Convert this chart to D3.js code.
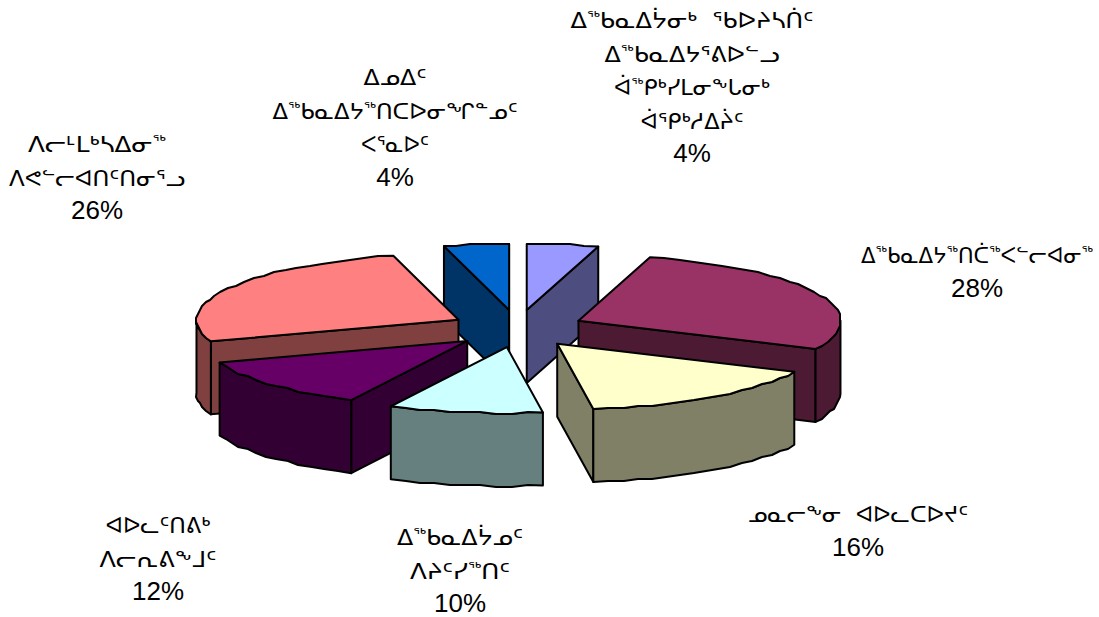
<!DOCTYPE html>
<html>
<head>
<meta charset="utf-8">
<script src="https://cdn.jsdelivr.net/npm/d3@7"></script>
<style>
    html, body { margin: 0; padding: 0; background: #fff; }
    svg { display: block; }
    text { fill: #000; text-anchor: middle; white-space: pre; }
    .pct { font-family: "Liberation Sans", Arial, sans-serif; font-size: 26px; }
    .syl { font-family: "DejaVu Sans", sans-serif; font-size: 23px; }
</style>
</head>
<body>
<svg id="base" width="1099" height="617"></svg>
<script>
    // clockwise from twelve o'clock, the labels show these rounded
    const values = [4.4, 27.6, 15.8, 9.5, 12.4, 26.3, 4];
    const names = [
        ["ᐃᖅᑲᓇᐃᔮᓂᒃ  ᖃᐅᔨᓴᑏᑦ", "ᐃᖅᑲᓇᐃᔭᕐᕕᐅᓪᓗ", "ᐋᖅᑭᒃᓯᒪᓂᖕᒐᓂᒃ", "ᐋᕐᑭᒃᓱᐃᔩᑦ"],
        ["ᐃᖅᑲᓇᐃᔭᖅᑎᑖᖅᐸᓪᓕᐊᓂᖅ"],
        ["ᓄᓇᓕᖕᓂ  ᐊᐅᓚᑕᐅᔪᑦ"],
        ["ᐃᖅᑲᓇᐃᔮᓄᑦ", "ᐱᔨᑦᓯᖅᑎᑦ"],
        ["ᐊᐅᓚᑦᑎᕕᒃ", "ᐱᓕᕆᕕᖕᒧᑦ"],
        ["ᐱᓕᒻᒪᒃᓴᐃᓂᖅ", "ᐱᕙᓪᓕᐊᑎᑦᑎᓂᕐᓗ"],
        ["ᐃᓄᐃᑦ", "ᐃᖅᑲᓇᐃᔭᖅᑎᑕᐅᓂᖏᓐᓄᑦ", "ᐸᕐᓇᐅᑦ"],
    ];
    const topColors = ["#9999ff", "#993366", "#ffffcc", "#ccffff", "#660066", "#ff8080", "#0066cc"];
    const sideColors = ["#4d4d80", "#4d1a33", "#808066", "#668080", "#330033", "#804040", "#003366"];

    // back slices first, so the front ones cover them
    const drawOrder = [6, 0, 1, 5, 2, 4, 3];

    // where each label block is centred, its first baseline, and how wide each line runs
    const labelX = [692, 977, 858, 460, 158, 97, 395];
    const labelY = [28, 263, 522, 545, 533, 152, 85];
    const lineWidths = [[243, 175, 156, 103], [232], [220], [126, 100], [105, 117], [138, 176], [63, 245, 68]];
    const lineGap = 33.5;

    const cx = 517.5;
    const cy = 328.6;
    const rx = 262;
    const ry = 66;
    const explodeX = 67;
    const explodeY = 18.7;
    const depth = 73;

    // the rim is a coarse polyline snapped to a grid, like the old chart export
    const rimStep = 0.06;
    const snap = 2;

    const svg = d3.select("#base");

    const arcs = d3.pie().sort(null).startAngle(0).endAngle(2 * Math.PI)(values);

    // flatten the angle onto the tilted disc
    const sx = d3.scaleLinear().domain([-1, 1]).range([-rx, rx]);
    const sy = d3.scaleLinear().domain([-1, 1]).range([-ry, ry]);

    const line = d3.line().curve(d3.curveLinearClosed);

    function apex(d) {
        const mid = (d.startAngle + d.endAngle) / 2;
        return [cx + explodeX * Math.sin(mid), cy - explodeY * Math.cos(mid)];
    }

    function rim(d, a) {
        const c = apex(d);
        return [c[0] + sx(Math.sin(a)), c[1] + sy(-Math.cos(a))];
    }

    function rimPoints(d, a0, a1) {
        const n = Math.max(2, Math.ceil((a1 - a0) / rimStep));
        return d3.range(n + 1).map((i) => {
            const p = rim(d, a0 + ((a1 - a0) * i) / n);
            if (i === 0 || i === n) return p;
            return [Math.round(p[0] / snap) * snap, Math.round(p[1] / snap) * snap];
        });
    }

    const drop = (p) => [p[0], p[1] + depth];

    const slices = svg
        .selectAll("g")
        .data(drawOrder.map((i) => ({ arc: arcs[i], i })))
        .enter()
        .append("g")
        .attr("stroke", "#000")
        .attr("stroke-width", 2)
        .attr("stroke-linejoin", "round");

    slices.each(function (s) {
        const g = d3.select(this);
        const d = s.arc;
        const c = apex(d);
        const side = sideColors[s.i];
        const wall = (pts) => g.append("path").attr("fill", side).attr("d", line(pts));

        // cut faces that look towards the viewer
        if (Math.sin(d.startAngle) < 0) {
            const p = rim(d, d.startAngle);
            wall([c, p, drop(p), drop(c)]);
        }
        if (Math.sin(d.endAngle) > 0) {
            const p = rim(d, d.endAngle);
            wall([c, p, drop(p), drop(c)]);
        }

        // outer wall, only the front half of the rim
        const a0 = Math.max(d.startAngle, Math.PI / 2);
        const a1 = Math.min(d.endAngle, (3 * Math.PI) / 2);
        if (a1 > a0) {
            const pts = rimPoints(d, a0, a1);
            wall(pts.concat(pts.map(drop).reverse()));
        }

        g.append("path")
            .attr("fill", topColors[s.i])
            .attr("d", line([c].concat(rimPoints(d, d.startAngle, d.endAngle))));
    });

    // the small raised finals are much narrower in the original face
    function addLine(parent, t, x, y, width) {
        const el = parent
            .append("text")
            .attr("class", "syl")
            .attr("x", x)
            .attr("y", y)
            .attr("textLength", width)
            .attr("lengthAdjust", "spacingAndGlyphs");
        t.split(/(ᖅ)/).forEach((part) => {
            if (!part) return;
            const small = part === "ᖅ";
            const span = el.append("tspan").text(part);
            if (small) span.attr("font-size", 15).attr("dy", -6);
            else if (el.selectAll("tspan").size() > 1) span.attr("dy", 6);
        });
    }

    // labels
    names.forEach((lines, i) => {
        const label = svg.append("g");
        lines.forEach((t, j) => addLine(label, t, labelX[i], labelY[i] + j * lineGap, lineWidths[i][j]));
        label
            .append("text")
            .attr("class", "pct")
            .attr("x", labelX[i])
            .attr("y", labelY[i] + lines.length * lineGap)
            .text(Math.round(values[i]) + "%");
    });
</script>
</body>
</html>
